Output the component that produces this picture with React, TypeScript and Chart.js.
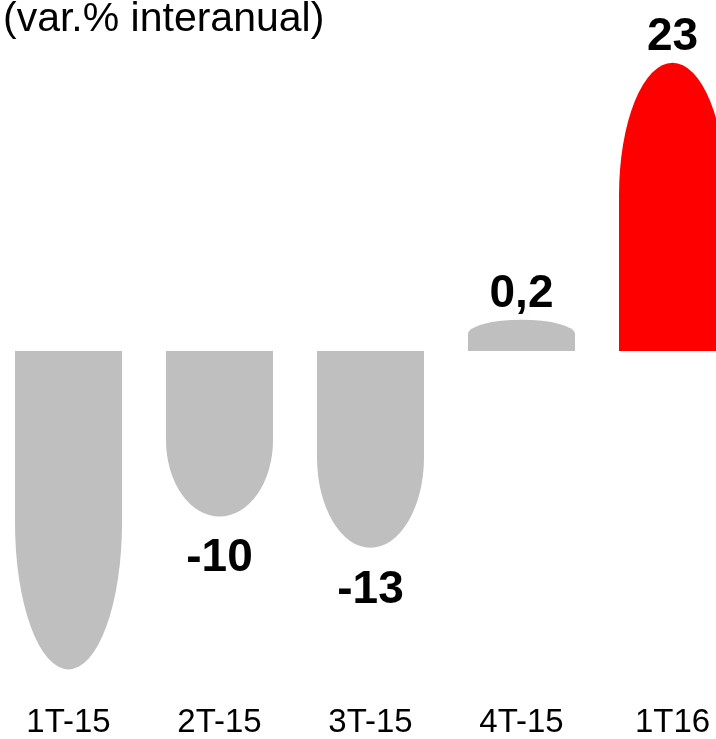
import React, { useEffect, useRef } from "react";
import { Chart, registerables } from "chart.js";

Chart.register(...registerables);

// ---- data ----
const categories = ["1T-15", "2T-15", "3T-15", "4T-15", "1T16"];
const barValues = [-25.4, -13.2, -15.7, 2.5, 23.0];
const valueLabels = ["", "-10", "-13", "0,2", "23"];
const barColors = ["#BFBFBF", "#BFBFBF", "#BFBFBF", "#BFBFBF", "#FF0000"];
const titleText = "(var.% interanual)";

const FONT = '"Liberation Sans", Arial, Helvetica, sans-serif';

const roundedBars = {
  id: "roundedBars",
  beforeDatasetDraw(chart: any, args: any) {
    const meta = args.meta;
    const ds = chart.data.datasets[args.index];
    const ctx = chart.ctx as CanvasRenderingContext2D;
    ctx.save();
    meta.data.forEach((el: any, i: number) => {
      const { x, y, base, width } = el.getProps(["x", "y", "base", "width"], true);
      const half = width / 2;
      const len = Math.abs(base - y);
      const cap = len * 0.46;
      ctx.beginPath();
      if (y <= base) {
        ctx.moveTo(x - half, base);
        ctx.lineTo(x - half, y + cap);
        ctx.ellipse(x, y + cap, half, cap, 0, Math.PI, 2 * Math.PI);
        ctx.lineTo(x + half, base);
      } else {
        ctx.moveTo(x - half, base);
        ctx.lineTo(x - half, y - cap);
        ctx.ellipse(x, y - cap, half, cap, 0, Math.PI, 0, true);
        ctx.lineTo(x + half, base);
      }
      ctx.closePath();
      ctx.fillStyle = ds.backgroundColor[i];
      ctx.fill();
      const label = valueLabels[i];
      if (label) {
        ctx.fillStyle = "#000";
        ctx.font = `bold 46px ${FONT}`;
        ctx.textAlign = "center";
        ctx.textBaseline = "alphabetic";
        ctx.fillText(label, x, y <= base ? y - 13 : y + 55);
      }
    });
    ctx.restore();
    return false;
  },
  afterDraw(chart: any) {
    const ctx = chart.ctx as CanvasRenderingContext2D;
    ctx.save();
    ctx.fillStyle = "#000";
    ctx.font = `41px ${FONT}`;
    ctx.textAlign = "left";
    ctx.textBaseline = "alphabetic";
    ctx.fillText(titleText, 11, 31);
    ctx.restore();
  },
};

export default function App() {
  const ref = useRef<HTMLCanvasElement>(null);
  useEffect(() => {
    document.body.style.margin = "0";
    const chart = new Chart(ref.current as HTMLCanvasElement, {
      type: "bar",
      data: {
        labels: categories,
        datasets: [
          {
            data: barValues,
            backgroundColor: barColors,
            barPercentage: 107 / 151,
            categoryPercentage: 1,
          },
        ],
      },
      options: {
        animation: false,
        responsive: false,
        devicePixelRatio: 1,
        layout: { padding: { left: 1, right: 14, top: 0, bottom: 0 } },
        plugins: {
          legend: { display: false },
          tooltip: { enabled: false },
          title: { display: false },
        },
        scales: {
          x: {
            grid: { display: false, drawTicks: false },
            border: { display: false },
            ticks: {
              color: "#000",
              font: { family: FONT, size: 33, lineHeight: 1 },
              padding: 0,
              maxRotation: 0,
              autoSkip: false,
            },
          },
          y: { display: false, min: -28.32, max: 28 },
        },
      },
      plugins: [roundedBars],
    });
    return () => chart.destroy();
  }, []);
  return (
    <div
      style={{
        position: "relative",
        width: 716,
        height: 739,
        overflow: "hidden",
        background: "#fff",
      }}
    >
      <canvas
        ref={ref}
        width={770}
        height={739}
        style={{ position: "absolute", left: -8, top: 0, width: 770, height: 739 }}
      />
    </div>
  );
}
